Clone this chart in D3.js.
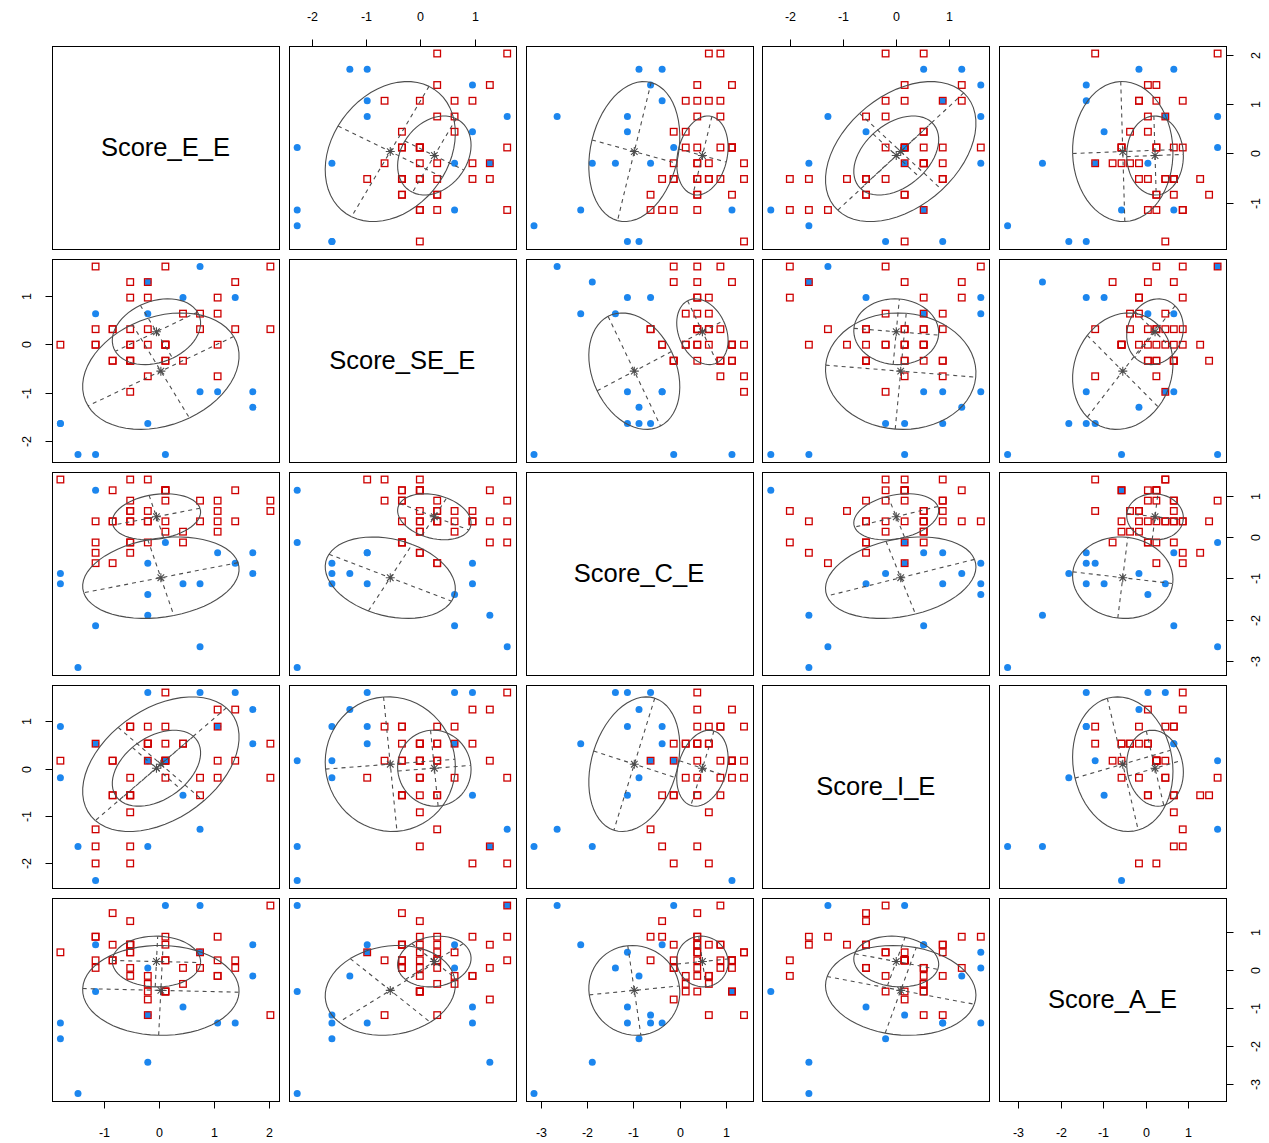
<!DOCTYPE html>
<html>
<head>
<meta charset="utf-8">
<script src="https://cdn.jsdelivr.net/npm/d3@7"></script>
<style>
  body { margin: 0; background: #fff; }
  svg { display: block; }
  text { font-family: "Liberation Sans", Arial, Helvetica, sans-serif; fill: #000; }
</style>
</head>
<body>
<svg id="chart" width="1269" height="1143"></svg>
<script>
// Variable names (diagonal labels)
const variables = ["Score_E_E", "Score_SE_E", "Score_C_E", "Score_I_E", "Score_A_E"];

// Class 1 (blue dots)
const blueE  = [1.71, 1.71, 1.39, 1.07, 0.75, 0.75, 0.44, 0.12, -0.20, -0.20, -0.20, -1.15, -1.15, -1.47, -1.79, -1.79];
const blueSE = [-1.30, -0.98, 0.96, -0.98, -0.98, 1.60, 0.96, -2.27, -1.63, 0.63, 1.28, -2.27, 0.63, -2.27, -1.63, -1.63];
const blueC  = [-0.88, -0.38, -0.63, -0.38, -1.13, -2.65, -1.13, -0.13, -0.63, -1.39, -1.89, 1.13, -2.14, -3.15, -1.13, -0.88];
const blueI  = [1.25, 0.53, 1.61, 0.89, 1.61, -1.28, -0.56, 0.17, 0.17, 1.61, -1.64, -2.36, 0.53, -1.64, 0.89, -0.19];
const blueA  = [-0.16, 0.66, -1.40, -1.40, 0.46, 1.69, -0.98, 1.69, -1.19, 0.05, -2.43, -0.57, 0.66, -3.25, -1.40, -1.81];

// Class 2 (red squares)
const redE  = [-0.52, 1.07, -0.20, 1.07, -0.20, -0.52, 1.39, -0.20, -0.52, 2.03,
               -1.15, 0.12, 0.44, 0.75, 1.07, 0.44, -0.84, -0.52, 0.12, -1.79,
               -0.52, -0.52, -1.15, -1.15, 1.07, 0.12, -0.20, 0.12, 2.03, 1.39,
               0.75, -1.15, -0.84, -0.20, -0.52, -0.84, -0.52, -0.84, -0.52, 0.12,
               0.12, 0.12];
const redSE = [-0.98, -0.66, -0.66, 0.96, 0.96, 0.96, 1.28, 1.28, 1.28, 1.60,
               1.60, 1.60, 0.63, 0.63, 0.63, -0.34, -0.34, -0.34, -0.34, -0.01,
               -0.01, -0.01, -0.01, -0.01, -0.01, -0.01, -0.01, -0.01, 0.31, 0.31,
               0.31, 0.31, 0.31, 0.31, 0.31, 0.31, -0.34, -0.34, -0.34, -0.34,
               -0.01, -0.01];
const redC  = [1.39, 0.88, 1.39, 0.38, 0.38, 0.63, 1.13, -0.13, 0.38, 0.88,
               -0.13, 0.38, 0.13, 0.38, 0.63, -0.13, 0.38, 0.88, 1.13, 1.39,
               -0.38, 0.63, 0.38, -0.38, 0.13, 1.13, 0.38, 1.13, 0.63, 0.38,
               0.88, -0.63, -0.63, 0.63, 0.38, 0.38, -0.13, 1.13, -0.13, 0.88,
               0.13, 1.13];
const redI  = [-0.19, 0.17, 0.89, 1.25, 0.53, -2.00, 1.25, 0.17, -1.64, -0.19,
               -2.00, 1.61, 0.53, -0.19, 0.89, 0.53, -0.56, 0.89, 0.17, 0.17,
               -0.56, -0.92, 0.53, -1.64, -0.19, -0.19, 0.53, 0.17, 0.53, 0.17,
               -0.56, -1.28, 0.17, 0.53, 0.89, -0.56, -0.56, 0.17, -0.56, 0.89,
               0.53, 0.17];
const redA  = [0.46, 0.25, -1.19, 0.87, -0.16, -0.16, 0.05, -0.78, 0.66, 1.69,
               0.25, 0.87, -0.37, 0.46, -0.16, 0.05, 1.49, 0.66, 0.25, 0.46,
               1.28, 0.66, 0.05, 0.87, -0.16, -0.57, -0.57, 0.25, -1.19, 0.25,
               0.05, 0.87, 0.25, -0.37, 0.46, 0.66, 0.66, 0.25, 0.05, 0.66,
               -0.57, -0.57];

// Axis tick labels per variable
const ticksE  = [-1, 0, 1, 2];
const ticksSE = [-2, -1, 0, 1];
const ticksC  = [-3, -2, -1, 0, 1];
const ticksI  = [-2, -1, 0, 1];
const ticksA  = [-3, -2, -1, 0, 1];

const blueCols = [blueE, blueSE, blueC, blueI, blueA];
const redCols  = [redE, redSE, redC, redI, redA];
const tickSets = [ticksE, ticksSE, ticksC, ticksI, ticksA];

const groups = [
  { cols: blueCols, color: "#1C86EE", shape: "dot" },
  { cols: redCols,  color: "#CD0000", shape: "square" }
];
const ellipseColor = "#4D4D4D";

// ---------- layout ----------
const nv = variables.length;
const plotLeft = 52, plotTop = 46, plotRight = 1226, plotBottom = 1101, gap = 10;
const pw = (plotRight - plotLeft - gap * (nv - 1)) / nv;
const ph = (plotBottom - plotTop - gap * (nv - 1)) / nv;
const colLeft = j => plotLeft + j * (pw + gap);
const rowTop  = i => plotTop + i * (ph + gap);

// Domains: data range widened by 4% on both sides
const domains = d3.range(nv).map(v => {
  const all = blueCols[v].concat(redCols[v]);
  const [lo, hi] = d3.extent(all);
  const pad = 0.04 * (hi - lo);
  return [lo - pad, hi + pad];
});
const xScales = d3.range(nv).map(j => d3.scaleLinear().domain(domains[j]).range([colLeft(j), colLeft(j) + pw]));
const yScales = d3.range(nv).map(i => d3.scaleLinear().domain(domains[i]).range([rowTop(i) + ph, rowTop(i)]));

// ---------- small linear algebra ----------
const zeros = (r, c) => Array.from({ length: r }, () => new Array(c).fill(0));
function inv(M) {
  const n = M.length;
  const A = M.map((r, i) => r.concat(d3.range(n).map(j => (i === j ? 1 : 0))));
  for (let c = 0; c < n; c++) {
    let p = c;
    for (let r = c + 1; r < n; r++) if (Math.abs(A[r][c]) > Math.abs(A[p][c])) p = r;
    [A[c], A[p]] = [A[p], A[c]];
    const pv = A[c][c];
    for (let k = 0; k < 2 * n; k++) A[c][k] /= pv;
    for (let r = 0; r < n; r++) {
      if (r === c) continue;
      const f = A[r][c];
      if (f !== 0) for (let k = 0; k < 2 * n; k++) A[r][k] -= f * A[c][k];
    }
  }
  return A.map(r => r.slice(n));
}
function det(M) {
  const n = M.length;
  const A = M.map(r => r.slice());
  let d = 1;
  for (let c = 0; c < n; c++) {
    let p = c;
    for (let r = c + 1; r < n; r++) if (Math.abs(A[r][c]) > Math.abs(A[p][c])) p = r;
    if (p !== c) { [A[c], A[p]] = [A[p], A[c]]; d = -d; }
    const pv = A[c][c];
    d *= pv;
    for (let r = c + 1; r < n; r++) {
      const f = A[r][c] / pv;
      for (let k = c; k < n; k++) A[r][k] -= f * A[c][k];
    }
  }
  return d;
}
const traceProd = (A, B) => { let s = 0; for (let i = 0; i < A.length; i++) for (let k = 0; k < A.length; k++) s += A[i][k] * B[k][i]; return s; };
const scaleMat = (A, s) => A.map(r => r.map(v => v * s));

// ---------- two-component Gaussian mixture, VEE (proportional covariances) ----------
function fitMixture(X, labels, steps) {
  const n = X.length, d = X[0].length, G = 2;
  let z = labels.map(l => (l === 0 ? [1, 0] : [0, 1]));
  let params = null;
  for (let it = 0; it <= steps; it++) {
    const nk = [0, 0], mu = [], Wk = [];
    for (let g = 0; g < G; g++) {
      let s = 0; const m = new Array(d).fill(0);
      for (let i = 0; i < n; i++) { s += z[i][g]; for (let a = 0; a < d; a++) m[a] += z[i][g] * X[i][a]; }
      nk[g] = s; mu[g] = m.map(v => v / s);
      const W = zeros(d, d);
      for (let i = 0; i < n; i++) {
        const dv = X[i].map((v, a) => v - mu[g][a]);
        for (let a = 0; a < d; a++) for (let b = 0; b < d; b++) W[a][b] += z[i][g] * dv[a] * dv[b];
      }
      Wk[g] = W;
    }
    let C = Wk[0].map((r, a) => r.map((v, b) => v + Wk[1][a][b]));
    C = scaleMat(C, 1 / Math.pow(det(C), 1 / d));
    let lam = [1, 1];
    for (let t = 0; t < 300; t++) {
      const Ci = inv(C);
      lam = Wk.map((W, g) => traceProd(W, Ci) / (d * nk[g]));
      let S = zeros(d, d);
      for (let g = 0; g < G; g++) S = S.map((r, a) => r.map((v, b) => v + Wk[g][a][b] / lam[g]));
      C = scaleMat(S, 1 / Math.pow(det(S), 1 / d));
    }
    const Sig = lam.map(l => scaleMat(C, l));
    const pro = nk.map(v => v / n);
    params = { mu, Sig };
    if (it === steps) break;
    const Sinv = Sig.map(inv), logdet = Sig.map(S => Math.log(det(S)));
    z = X.map(x => {
      const lp = [0, 1].map(g => {
        const dv = x.map((v, a) => v - mu[g][a]);
        let q = 0;
        for (let a = 0; a < d; a++) for (let b = 0; b < d; b++) q += dv[a] * Sinv[g][a][b] * dv[b];
        return Math.log(pro[g]) - 0.5 * (logdet[g] + q);
      });
      const mx = Math.max(lp[0], lp[1]);
      const e = lp.map(v => Math.exp(v - mx));
      const s = e[0] + e[1];
      return e.map(v => v / s);
    });
  }
  return params;
}

const rowsOf = cols => cols[0].map((_, i) => cols.map(c => c[i]));
const Xall = rowsOf(blueCols).concat(rowsOf(redCols));
const labelsAll = blueCols[0].map(() => 0).concat(redCols[0].map(() => 1));
const model = fitMixture(Xall, labelsAll, 200);

// ---------- drawing ----------
const svg = d3.select("#chart");
const defs = svg.append("defs");

for (let i = 0; i < nv; i++) {
  for (let j = 0; j < nv; j++) {
    const x0 = colLeft(j), y0 = rowTop(i);
    const panel = svg.append("g");
    if (i === j) {
      panel.append("text")
        .attr("x", x0 + pw / 2).attr("y", y0 + ph / 2)
        .attr("dy", "0.35em").attr("text-anchor", "middle")
        .attr("font-size", 25.5)
        .text(variables[i]);
    } else {
      const clipId = `clip-${i}-${j}`;
      defs.append("clipPath").attr("id", clipId)
        .append("rect").attr("x", x0).attr("y", y0).attr("width", pw).attr("height", ph);
      const g = panel.append("g").attr("clip-path", `url(#${clipId})`);
      const xs = xScales[j], ys = yScales[i];

      groups.forEach(grp => {
        const xv = grp.cols[j], yv = grp.cols[i];
        const pts = xv.map((v, k) => [v, yv[k]]);
        if (grp.shape === "dot") {
          g.selectAll(null).data(pts).enter().append("circle")
            .attr("cx", p => xs(p[0])).attr("cy", p => ys(p[1]))
            .attr("r", 3.5).attr("fill", grp.color);
        } else {
          const s = 6.6;
          g.selectAll(null).data(pts).enter().append("rect")
            .attr("x", p => xs(p[0]) - s / 2).attr("y", p => ys(p[1]) - s / 2)
            .attr("width", s).attr("height", s)
            .attr("fill", "none").attr("stroke", grp.color).attr("stroke-width", 1.3);
        }
      });

      // component ellipses: 1-sd contour, principal axes and centre
      [0, 1].forEach(k => {
        const S = model.Sig[k], m = model.mu[k];
        const a = S[j][j], b = S[j][i], c = S[i][i];
        const mid = (a + c) / 2, q = Math.sqrt(((a - c) / 2) ** 2 + b * b);
        const l1 = mid + q, l2 = Math.max(mid - q, 0);
        let v1;
        if (Math.abs(b) > 1e-12) { const nx = b, ny = l1 - a, nn = Math.hypot(nx, ny); v1 = [nx / nn, ny / nn]; }
        else v1 = a >= c ? [1, 0] : [0, 1];
        const v2 = [-v1[1], v1[0]];
        const s1 = Math.sqrt(l1), s2 = Math.sqrt(l2);
        const toPx = (u, w) => [xs(m[j] + u * s1 * v1[0] + w * s2 * v2[0]), ys(m[i] + u * s1 * v1[1] + w * s2 * v2[1])];
        const line = d3.line();
        const thetas = d3.range(16).map(t => t * Math.PI / 30);
        [[1, 1], [-1, 1], [-1, -1], [1, -1]].forEach(([sx, sy]) => {
          g.append("path")
            .attr("d", line(thetas.map(t => toPx(sx * Math.cos(t), sy * Math.sin(t)))))
            .attr("fill", "none").attr("stroke", ellipseColor).attr("stroke-width", 1.1);
        });
        [[[1, 0], [-1, 0]], [[0, 1], [0, -1]]].forEach(([p, r]) => {
          g.append("path")
            .attr("d", line([toPx(p[0], p[1]), toPx(r[0], r[1])]))
            .attr("fill", "none").attr("stroke", ellipseColor).attr("stroke-width", 1.1)
            .attr("stroke-dasharray", "4,4");
        });
        const cx = xs(m[j]), cy = ys(m[i]), r1 = 4.5, r2 = 3.3;
        g.append("path")
          .attr("d", `M${cx - r1},${cy}H${cx + r1}M${cx},${cy - r1}V${cy + r1}` +
                     `M${cx - r2},${cy - r2}L${cx + r2},${cy + r2}M${cx - r2},${cy + r2}L${cx + r2},${cy - r2}`)
          .attr("stroke", ellipseColor).attr("stroke-width", 1.1).attr("fill", "none");
      });
    }
    panel.append("rect")
      .attr("x", Math.round(x0) + 0.5).attr("y", Math.round(y0) + 0.5)
      .attr("width", Math.round(pw)).attr("height", Math.round(ph))
      .attr("fill", "none").attr("stroke", "#000").attr("stroke-width", 1);
  }
}

// ---------- axes (alternating sides, as in a pairs plot) ----------
const axes = svg.append("g").attr("stroke", "#000").attr("stroke-width", 1);
const tickLen = 7;
for (let j = 0; j < nv; j++) {
  const xs = xScales[j];
  const top = j % 2 === 1;
  const yEdge = top ? Math.round(rowTop(0)) + 0.5 : Math.round(rowTop(nv - 1)) + Math.round(ph) + 0.5;
  tickSets[j].forEach(t => {
    const x = Math.round(xs(t)) + 0.5;
    axes.append("line").attr("x1", x).attr("x2", x)
      .attr("y1", yEdge).attr("y2", top ? yEdge - tickLen : yEdge + tickLen);
    svg.append("text").attr("x", x).attr("y", top ? 17 : 1133)
      .attr("dy", "0.35em").attr("text-anchor", "middle").attr("font-size", 12.5)
      .text(String(t).replace("-", "-"));
  });
}
for (let i = 0; i < nv; i++) {
  const ys = yScales[i];
  const left = i % 2 === 1;
  const xEdge = left ? Math.round(colLeft(0)) + 0.5 : Math.round(colLeft(nv - 1)) + Math.round(pw) + 0.5;
  tickSets[i].forEach(t => {
    const y = Math.round(ys(t)) + 0.5;
    axes.append("line").attr("y1", y).attr("y2", y)
      .attr("x1", xEdge).attr("x2", left ? xEdge - tickLen : xEdge + tickLen);
    svg.append("text")
      .attr("transform", `translate(${left ? 27 : 1256},${y}) rotate(-90)`)
      .attr("dy", "0.35em").attr("text-anchor", "middle").attr("font-size", 12.5)
      .text(String(t));
  });
}
</script>
</body>
</html>
